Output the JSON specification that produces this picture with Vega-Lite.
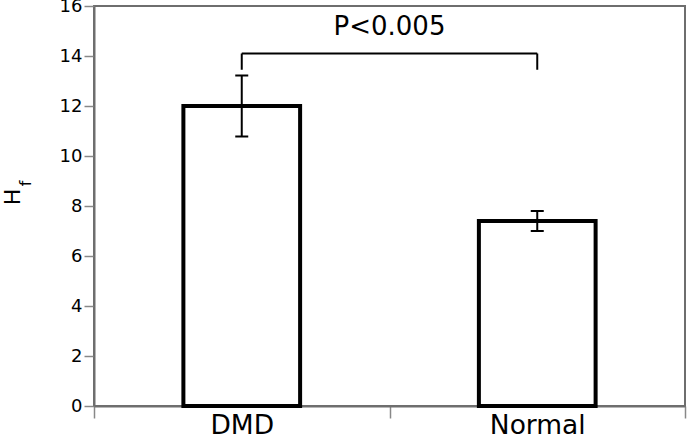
{
  "$schema": "https://vega.github.io/schema/vega-lite/v6.json",
  "width": 591,
  "height": 400,
  "autosize": {"type": "none"},
  "padding": {"left": 94, "top": 6, "right": 3, "bottom": 29},
  "background": "white",
  "config": {
    "view": {"stroke": "#6e6e6e", "strokeWidth": 2},
    "font": "DejaVu Sans",
    "axisX": {
      "title": null, "labelAngle": 0, "labelFontSize": 26.5, "labelColor": "black",
      "labelPadding": 15, "labelBaseline": "alphabetic", "tickBand": "extent", "tickSize": 12, "tickColor": "#888888",
      "tickWidth": 1.5, "domainColor": "#6e6e6e", "domainWidth": 2, "labelFont": "DejaVu Sans"
    },
    "axisY": {
      "labelFontSize": 18, "labelColor": "black", "labelPadding": 2, "labelFont": "DejaVu Sans",
      "tickSize": 10, "tickColor": "#888888", "tickWidth": 1.5,
      "domainColor": "#6e6e6e", "domainWidth": 2, "grid": false
    }
  },
  "datasets": {
    "bars": [
      {"group": "DMD", "mean": 12.0, "low": 10.78, "high": 13.22},
      {"group": "Normal", "mean": 7.4, "low": 7.0, "high": 7.8}
    ],
    "bracket": [
      {"from": "DMD", "to": "Normal", "y": 14.1, "yend": 13.45, "label": "P<0.005", "ylabel": 14.85}
    ]
  },
  "resolve": {"axis": {"y": "independent"}},
  "layer": [
    {
      "data": {"name": "bars"},
      "mark": {"type": "bar", "fill": "white", "stroke": "black", "strokeWidth": 4, "width": {"band": 0.395}},
      "encoding": {
        "x": {
          "field": "group", "type": "nominal",
          "scale": {"paddingInner": 0, "paddingOuter": 0},
          "axis": {"title": null, "labelAngle": 0, "tickBand": "extent"}
        },
        "y": {
          "field": "mean", "type": "quantitative",
          "scale": {"domain": [0, 16], "nice": false},
          "axis": {
            "values": [0, 2, 4, 6, 8, 10, 12, 14, 16],
            "labelFontSize": 18,
            "title": "H", "titleFontSize": 22, "titleFontWeight": "normal", "titleColor": "black", "titleFont": "DejaVu Sans",
            "titleX": -75, "titleY": 190.5, "titleBaseline": "alphabetic", "titleAngle": 270, "titleAlign": "center"
          }
        }
      }
    },
    {
      "data": {"name": "bars"},
      "mark": {"type": "rule", "stroke": "black", "strokeWidth": 2},
      "encoding": {
        "x": {"field": "group", "type": "nominal", "title": null},
        "y": {"field": "low", "type": "quantitative", "axis": null},
        "y2": {"field": "high"}
      }
    },
    {
      "data": {"name": "bars"},
      "mark": {"type": "tick", "orient": "horizontal", "color": "black", "size": 13, "thickness": 2, "opacity": 1},
      "encoding": {
        "x": {"field": "group", "type": "nominal", "title": null},
        "y": {"field": "low", "type": "quantitative", "axis": null}
      }
    },
    {
      "data": {"name": "bars"},
      "mark": {"type": "tick", "orient": "horizontal", "color": "black", "size": 13, "thickness": 2, "opacity": 1},
      "encoding": {
        "x": {"field": "group", "type": "nominal", "title": null},
        "y": {"field": "high", "type": "quantitative", "axis": null}
      }
    },
    {
      "data": {"name": "bracket"},
      "mark": {"type": "rule", "stroke": "black", "strokeWidth": 2},
      "encoding": {
        "x": {"field": "from", "type": "nominal", "title": null},
        "x2": {"field": "to"},
        "y": {"field": "y", "type": "quantitative", "axis": null}
      }
    },
    {
      "data": {"name": "bracket"},
      "mark": {"type": "rule", "stroke": "black", "strokeWidth": 2},
      "encoding": {
        "x": {"field": "from", "type": "nominal", "title": null},
        "y": {"field": "yend", "type": "quantitative", "axis": null},
        "y2": {"field": "y"}
      }
    },
    {
      "data": {"name": "bracket"},
      "mark": {"type": "rule", "stroke": "black", "strokeWidth": 2},
      "encoding": {
        "x": {"field": "to", "type": "nominal", "title": null},
        "y": {"field": "yend", "type": "quantitative", "axis": null},
        "y2": {"field": "y"}
      }
    },
    {
      "data": {"name": "bracket"},
      "mark": {"type": "text", "fontSize": 26, "align": "center", "baseline": "alphabetic", "color": "black", "font": "DejaVu Sans"},
      "encoding": {
        "x": {"field": "from", "type": "nominal", "bandPosition": 1, "title": null},
        "y": {
          "field": "ylabel", "type": "quantitative",
          "axis": {
            "orient": "left", "labels": false, "ticks": false, "domain": false, "grid": false,
            "title": "f", "titleFontSize": 16, "titleFontWeight": "normal", "titleColor": "black", "titleFont": "DejaVu Sans",
            "titleX": -64, "titleY": 177, "titleBaseline": "alphabetic", "titleAngle": 270, "titleAlign": "center"
          }
        },
        "text": {"field": "label"}
      }
    }
  ]
}
